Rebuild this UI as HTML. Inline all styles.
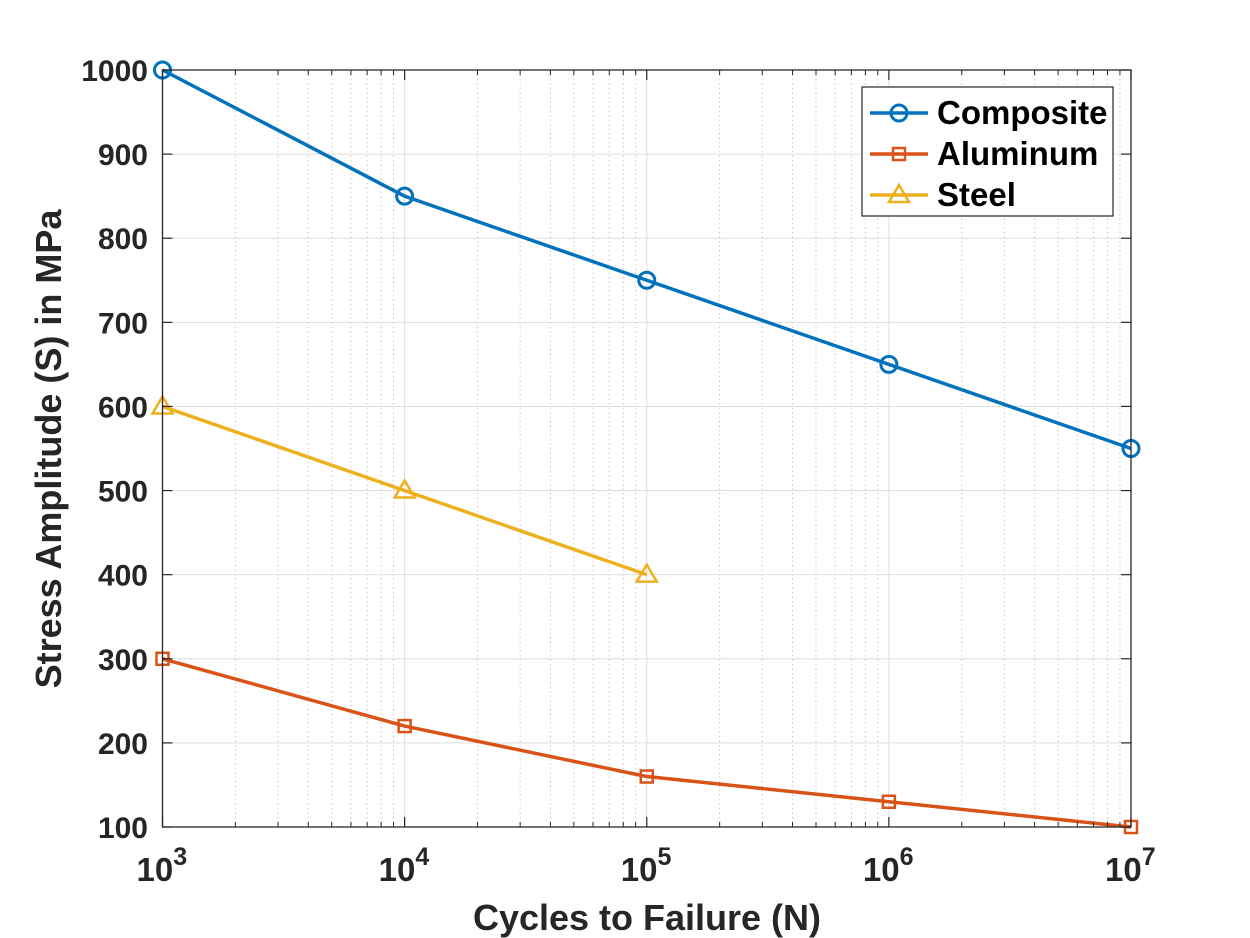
<!DOCTYPE html>
<html><head><meta charset="utf-8"><style>
body{margin:0;background:#fff;}
svg{display:block;font-family:"Liberation Sans",Arial,sans-serif;font-weight:bold;}
</style></head><body>
<svg id="chart" width="1250" height="938" viewBox="0 0 1250 938" xmlns="http://www.w3.org/2000/svg">
<rect width="1250" height="938" fill="#fff"/>
<g id="grid"></g><g id="series"></g><g id="axes"></g>
</svg>
<script>
const cycles = [1e3, 1e4, 1e5, 1e6, 1e7];
const composite = [1000, 850, 750, 650, 550];
const aluminum = [300, 220, 160, 130, 100];
const steelCycles = [1e3, 1e4, 1e5];
const steel = [600, 500, 400];
const yTicks = [100,200,300,400,500,600,700,800,900,1000];
const xExps = [3,4,5,6,7];

const L=162.5,R=1131,T=70,B=827;
const NS="http://www.w3.org/2000/svg";
function xs(v){return L+(Math.log10(v)-3)/4*(R-L);}
function ys(v){return B-(v-100)/900*(B-T);}
function mk(tag,attrs,parent){const e=document.createElementNS(NS,tag);for(const k in attrs)e.setAttribute(k,attrs[k]);parent.appendChild(e);return e;}
const grid=document.getElementById('grid'),ser=document.getElementById('series'),ax=document.getElementById('axes');

for(let d=3;d<7;d++)for(let m=2;m<10;m++){const x=xs(m*Math.pow(10,d));
 const l=mk('line',{x1:x,x2:x,y1:T,y2:B,stroke:'#c8c8c8','stroke-width':1,'stroke-dasharray':'1.5,3'},grid);
 
 mk('line',{x1:x,x2:x,y1:B,y2:B-5,stroke:'#262626','stroke-width':1},ax);
 mk('line',{x1:x,x2:x,y1:T,y2:T+5,stroke:'#262626','stroke-width':1},ax);}
xExps.forEach(e=>{const x=xs(Math.pow(10,e));
 const l=mk('line',{x1:x,x2:x,y1:T,y2:B,stroke:'#dedede','stroke-width':1},grid);
 
 mk('line',{x1:x,x2:x,y1:B,y2:B-10,stroke:'#262626','stroke-width':1.2},ax);
 mk('line',{x1:x,x2:x,y1:T,y2:T+10,stroke:'#262626','stroke-width':1.2},ax);
 const t=mk('text',{x:x-26,y:881,'font-size':33,fill:'#262626'},ax);
 
 t.textContent='10';
 const s=mk('tspan',{dy:-16,'font-size':25},t);s.textContent=String(e);});
yTicks.forEach(v=>{const y=ys(v);
 const l=mk('line',{x1:L,x2:R,y1:y,y2:y,stroke:'#dedede','stroke-width':1},grid);
 
 mk('line',{x1:L,x2:L+10,y1:y,y2:y,stroke:'#262626','stroke-width':1.2},ax);
 mk('line',{x1:R,x2:R-10,y1:y,y2:y,stroke:'#262626','stroke-width':1.2},ax);
 const t=mk('text',{x:148,y:y+11,'font-size':30,'text-anchor':'end',fill:'#262626'},ax);
 
 t.textContent=String(v);});
const fr=mk('rect',{x:L,y:T,width:R-L,height:B-T,fill:'none',stroke:'#262626','stroke-width':1.3},ax);

const xl=mk('text',{x:647,y:930,'font-size':36,'text-anchor':'middle',fill:'#262626'},ax);
xl.textContent='Cycles to Failure (N)';
const yl=mk('text',{x:0,y:0,'font-size':36,'text-anchor':'middle',fill:'#262626',transform:'translate(61,449) rotate(-90)'},ax);
yl.textContent='Stress Amplitude (S) in MPa';

function marker(type,x,y,c,g){
 if(type==='o')return mk('circle',{cx:x,cy:y,r:8,fill:'none',stroke:c,'stroke-width':3},g);
 if(type==='s')return mk('rect',{x:x-6,y:y-6,width:12,height:12,fill:'none',stroke:c,'stroke-width':2.5},g);
 return mk('polygon',{points:`${x},${y-10} ${x-10},${y+7} ${x+10},${y+7}`,fill:'none',stroke:c,'stroke-width':2.5},g);}
function drawSeries(name,xv,yv,c,type){
 const g=mk('g',{},ser);
 const p=mk('polyline',{points:xv.map((x,i)=>xs(x)+','+ys(yv[i])).join(' '),fill:'none',stroke:c,'stroke-width':3.5},g);
 
 xv.forEach((x,i)=>{const m=marker(type,xs(x),ys(yv[i]),c,g);
  });}
drawSeries('composite',cycles,composite,'#0072bd','o');
drawSeries('aluminum',cycles,aluminum,'#d95319','s');
drawSeries('steel',steelCycles,steel,'#edb120','^');

const lg=mk('g',{},ax);
mk('rect',{x:862,y:87,width:251,height:129,fill:'#fff',stroke:'#262626','stroke-width':1.2},lg);
[['Composite','#0072bd','o'],['Aluminum','#d95319','s'],['Steel','#edb120','^']].forEach((e,i)=>{
 const y=113+i*41;const g=mk('g',{},lg);
 
 mk('line',{x1:870,x2:928,y1:y,y2:y,stroke:e[1],'stroke-width':3.5},g);
 marker(e[2],899,y,e[1],g);
 const t=mk('text',{x:937,y:y+11,'font-size':33,fill:'#000'},g);
 t.textContent=e[0];});
</script>
</body></html>
